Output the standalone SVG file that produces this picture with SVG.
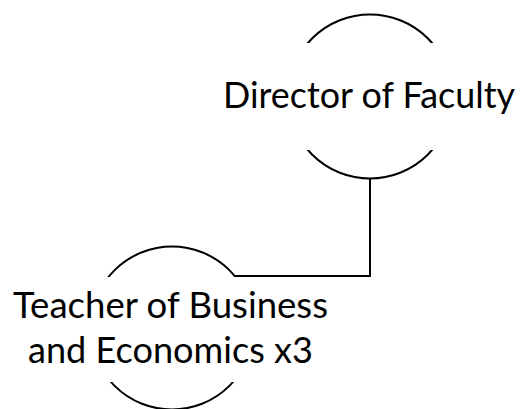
<svg xmlns="http://www.w3.org/2000/svg" width="521" height="409" viewBox="0 0 521 409">
<style>
.node{fill:#fff;stroke:#000;stroke-width:2}
.mask{fill:#fff;stroke:none}
.lbl{font-family:"Lato","Open Sans",sans-serif;font-size:36px;fill:#000;text-anchor:middle}
.conn{fill:none;stroke:#000;stroke-width:2}
</style>
<rect width="521" height="409" fill="#fff"/>
<g id="connectors">
<path class="conn" d="M370,178 V276 H235"/>
</g>
<g id="director">
<circle class="node" cx="370" cy="96.5" r="82"/>
<rect class="mask" x="220" y="43" width="301" height="107"/>
<text class="lbl" x="369" y="108" textLength="292" lengthAdjust="spacingAndGlyphs">Director of Faculty</text>
</g>
<g id="teacher">
<circle class="node" cx="172" cy="328" r="81.5"/>
<rect class="mask" x="0" y="277" width="345" height="105"/>
<text class="lbl" x="170.5" y="318" textLength="315" lengthAdjust="spacingAndGlyphs">Teacher of Business</text>
<text class="lbl" x="170.5" y="363" textLength="285" lengthAdjust="spacingAndGlyphs">and Economics x3</text>
</g>
</svg>
